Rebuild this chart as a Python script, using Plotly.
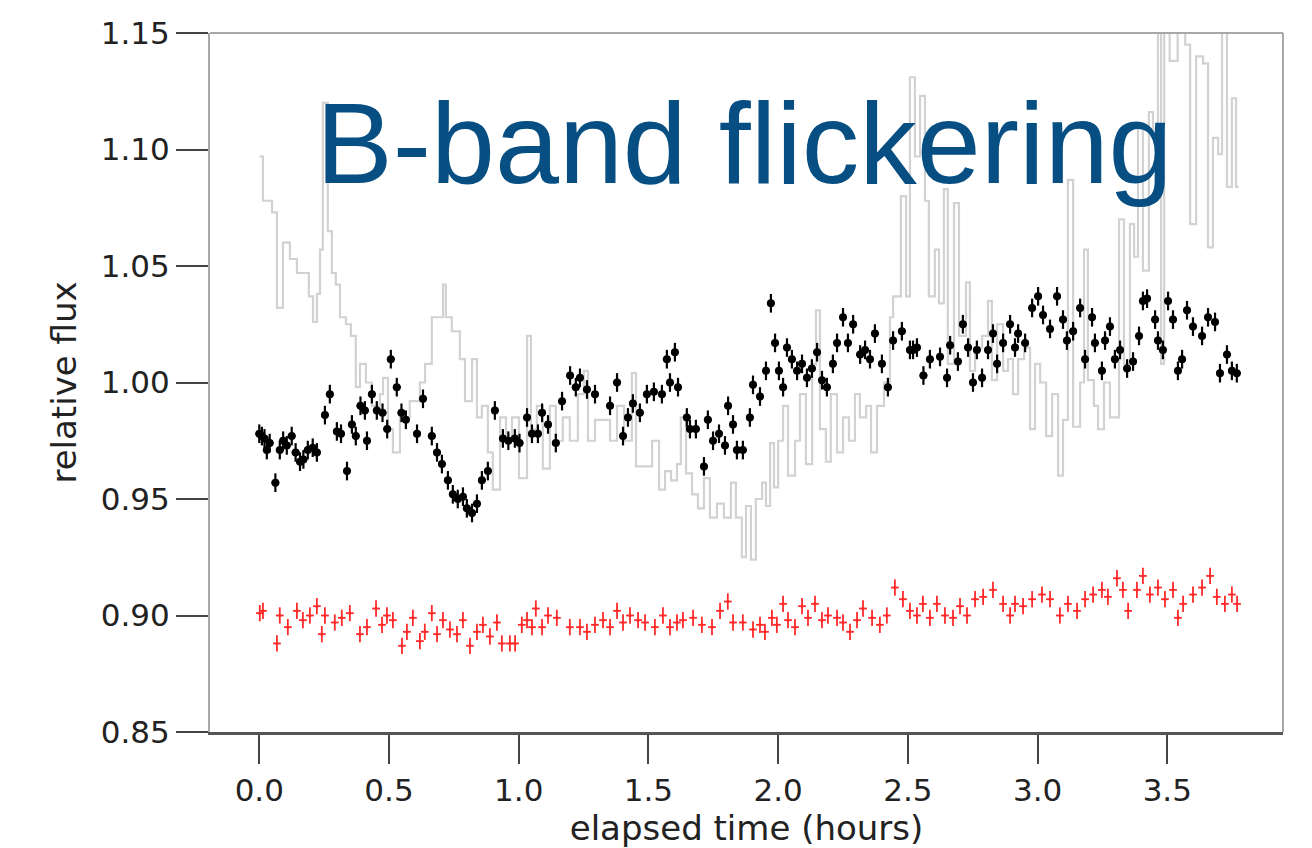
import plotly.graph_objects as go

# ---- comparison (gray) step light curve: time [h], relative flux ----
gray_t = [0.000, 0.014, 0.049, 0.068, 0.091, 0.118, 0.145, 0.191, 0.207, 0.222, 0.234, 0.245, 0.264,
          0.280, 0.295, 0.311, 0.334, 0.353, 0.372, 0.388, 0.411, 0.434, 0.465, 0.477, 0.496, 0.515,
          0.542, 0.580, 0.619, 0.639, 0.665, 0.708, 0.719, 0.742, 0.773, 0.793, 0.820, 0.839, 0.858,
          0.881, 0.900, 0.928, 0.951, 0.974, 1.001, 1.032, 1.047, 1.070, 1.093, 1.120, 1.143, 1.170,
          1.197, 1.228, 1.251, 1.267, 1.294, 1.352, 1.379, 1.406, 1.436, 1.452, 1.487, 1.514, 1.541,
          1.564, 1.587, 1.610, 1.625, 1.645, 1.668, 1.691, 1.714, 1.737, 1.764, 1.791, 1.818, 1.837,
          1.860, 1.876, 1.895, 1.914, 1.938, 1.953, 1.969, 1.984, 2.000, 2.019, 2.038, 2.065, 2.084,
          2.107, 2.131, 2.146, 2.161, 2.184, 2.203, 2.227, 2.250, 2.273, 2.296, 2.315, 2.339, 2.358,
          2.381, 2.408, 2.431, 2.443, 2.473, 2.493, 2.508, 2.527, 2.547, 2.566, 2.581, 2.604, 2.620,
          2.639, 2.654, 2.678, 2.697, 2.724, 2.739, 2.759, 2.786, 2.809, 2.824, 2.844, 2.867, 2.886,
          2.905, 2.925, 2.948, 2.971, 2.990, 3.010, 3.033, 3.056, 3.079, 3.098, 3.117, 3.137, 3.164,
          3.179, 3.194, 3.217, 3.233, 3.256, 3.279, 3.314, 3.333, 3.356, 3.372, 3.387, 3.406, 3.429,
          3.445, 3.464, 3.476, 3.488, 3.509, 3.540, 3.569, 3.588, 3.611, 3.638, 3.657, 3.676, 3.696,
          3.711, 3.730, 3.749, 3.765, 3.775]
gray_f = [1.097, 1.078, 1.073, 1.032, 1.060, 1.053, 1.047, 1.037, 1.026, 1.038, 1.057, 1.120, 1.065,
          1.047, 1.042, 1.028, 1.025, 1.020, 0.998, 1.008, 1.000, 0.990, 0.995, 1.002, 0.980, 0.970,
          0.985, 0.992, 1.000, 1.008, 1.028, 1.042, 1.028, 1.022, 1.010, 0.992, 1.010, 0.985, 0.990,
          0.970, 0.954, 0.985, 0.975, 0.985, 0.959, 1.020, 0.980, 0.990, 0.963, 0.990, 0.975, 0.985,
          0.975, 0.995, 1.005, 0.975, 0.984, 0.975, 0.990, 0.975, 1.004, 0.964, 0.964, 0.975, 0.954,
          0.962, 0.958, 0.965, 0.985, 0.961, 0.952, 0.946, 0.959, 0.942, 0.948, 0.942, 0.957, 0.942,
          0.925, 0.947, 0.924, 0.950, 0.957, 0.947, 0.974, 0.955, 0.975, 0.990, 0.960, 0.975, 0.995,
          0.965, 1.008, 1.031, 0.980, 0.966, 0.995, 0.970, 0.985, 0.975, 0.995, 0.985, 0.990, 0.970,
          0.990, 1.000, 1.028, 1.037, 1.080, 1.037, 1.131, 1.097, 1.123, 1.078, 1.037, 1.057, 1.034,
          1.083, 1.008, 1.077, 1.020, 1.043, 1.005, 1.015, 1.020, 1.035, 1.001, 1.025, 1.005, 1.010,
          0.995, 1.010, 1.015, 0.980, 1.008, 1.000, 0.977, 0.995, 0.960, 0.984, 1.087, 0.981, 1.000,
          1.057, 1.001, 0.990, 0.980, 1.000, 0.985, 1.070, 1.008, 1.068, 1.054, 1.111, 1.048, 1.116,
          1.105, 1.160, 1.008, 1.150, 1.138, 1.155, 1.145, 1.068, 1.140, 1.137, 1.058, 1.105, 1.098,
          1.155, 1.084, 1.122, 1.084, 1.084]

# ---- target star B-band (black) ----
blk_t = [0.000, 0.010, 0.020, 0.029, 0.040, 0.062, 0.079, 0.092, 0.106, 0.125, 0.140, 0.157, 0.170,
         0.187, 0.206, 0.222, 0.253, 0.272, 0.299, 0.315, 0.338, 0.357, 0.372, 0.390, 0.407, 0.415,
         0.434, 0.453, 0.475, 0.493, 0.507, 0.530, 0.548, 0.565, 0.608, 0.631, 0.665, 0.685, 0.704,
         0.727, 0.746, 0.765, 0.785, 0.800, 0.820, 0.839, 0.858, 0.881, 0.908, 0.939, 0.960, 0.985,
         1.003, 1.032, 1.051, 1.074, 1.090, 1.113, 1.143, 1.167, 1.198, 1.220, 1.236, 1.263, 1.294,
         1.352, 1.379, 1.402, 1.421, 1.440, 1.467, 1.494, 1.521, 1.552, 1.571, 1.583, 1.602, 1.614,
         1.648, 1.660, 1.683, 1.714, 1.729, 1.749, 1.772, 1.795, 1.807, 1.826, 1.841, 1.864, 1.891,
         1.903, 1.930, 1.953, 1.972, 1.988, 2.003, 2.019, 2.034, 2.053, 2.073, 2.092, 2.111, 2.130,
         2.150, 2.169, 2.188, 2.211, 2.227, 2.250, 2.269, 2.289, 2.316, 2.335, 2.354, 2.373, 2.400,
         2.423, 2.443, 2.477, 2.508, 2.520, 2.535, 2.560, 2.585, 2.624, 2.651, 2.663, 2.693, 2.712,
         2.732, 2.751, 2.766, 2.786, 2.809, 2.828, 2.844, 2.867, 2.894, 2.913, 2.925, 2.952, 2.979,
         3.002, 3.021, 3.048, 3.075, 3.098, 3.113, 3.137, 3.164, 3.183, 3.210, 3.221, 3.248, 3.260,
         3.279, 3.298, 3.318, 3.345, 3.368, 3.391, 3.406, 3.422, 3.453, 3.464, 3.483, 3.503, 3.522,
         3.541, 3.557, 3.576, 3.599, 3.634, 3.657, 3.684, 3.703, 3.730, 3.749, 3.768]
blk_f = [0.978, 0.977, 0.976, 0.971, 0.974, 0.957, 0.971, 0.975, 0.973, 0.977, 0.970, 0.966, 0.967,
         0.971, 0.972, 0.970, 0.986, 0.995, 0.979, 0.978, 0.962, 0.982, 0.977, 0.990, 0.988, 0.975,
         0.995, 0.988, 0.987, 0.980, 1.010, 0.998, 0.987, 0.984, 0.978, 0.993, 0.977, 0.970, 0.965,
         0.958, 0.952, 0.950, 0.951, 0.946, 0.944, 0.948, 0.958, 0.962, 0.988, 0.976, 0.975, 0.976,
         0.974, 0.985, 0.978, 0.978, 0.987, 0.982, 0.974, 0.992, 1.003, 0.998, 1.002, 0.997, 0.995,
         0.990, 1.000, 0.977, 0.985, 0.991, 0.987, 0.995, 0.996, 0.995, 1.010, 1.000, 1.013, 0.998,
         0.985, 0.980, 0.980, 0.964, 0.984, 0.975, 0.978, 0.973, 0.990, 0.982, 0.971, 0.971, 0.985,
         0.999, 0.994, 1.005, 1.034, 1.017, 1.005, 0.998, 1.015, 1.010, 1.005, 1.008, 1.002, 1.006,
         1.013, 1.001, 0.998, 1.008, 1.017, 1.028, 1.017, 1.025, 1.012, 1.014, 1.010, 1.021, 1.008,
         0.998, 1.018, 1.022, 1.014, 1.014, 1.015, 1.003, 1.010, 1.011, 1.002, 1.016, 1.009, 1.025,
         1.015, 1.000, 1.014, 1.002, 1.014, 1.021, 1.008, 1.017, 1.025, 1.015, 1.021, 1.017, 1.032,
         1.037, 1.029, 1.023, 1.037, 1.027, 1.018, 1.022, 1.032, 1.010, 1.028, 1.017, 1.005, 1.018,
         1.024, 1.010, 1.014, 1.006, 1.009, 1.020, 1.035, 1.036, 1.027, 1.018, 1.014, 1.035, 1.027,
         1.005, 1.010, 1.031, 1.024, 1.020, 1.028, 1.026, 1.004, 1.012, 1.005, 1.004]

# ---- check star (red), offset ----
red_t = [0.002, 0.014, 0.068, 0.079, 0.110, 0.145, 0.168, 0.195, 0.222, 0.241, 0.253, 0.291, 0.318,
         0.349, 0.388, 0.415, 0.450, 0.473, 0.492, 0.515, 0.550, 0.569, 0.592, 0.619, 0.638, 0.665,
         0.685, 0.708, 0.735, 0.762, 0.785, 0.812, 0.839, 0.862, 0.889, 0.916, 0.935, 0.966, 0.986,
         1.012, 1.032, 1.051, 1.066, 1.090, 1.113, 1.147, 1.197, 1.236, 1.263, 1.294, 1.325, 1.352,
         1.379, 1.402, 1.429, 1.460, 1.487, 1.525, 1.556, 1.583, 1.610, 1.633, 1.672, 1.706, 1.745,
         1.776, 1.806, 1.826, 1.864, 1.903, 1.930, 1.949, 1.976, 1.995, 2.019, 2.038, 2.065, 2.092,
         2.115, 2.142, 2.169, 2.192, 2.227, 2.250, 2.277, 2.304, 2.327, 2.362, 2.392, 2.419, 2.450,
         2.481, 2.508, 2.535, 2.558, 2.585, 2.612, 2.643, 2.674, 2.701, 2.728, 2.759, 2.790, 2.828,
         2.867, 2.894, 2.913, 2.944, 2.979, 3.017, 3.048, 3.086, 3.117, 3.152, 3.183, 3.214, 3.248,
         3.271, 3.306, 3.329, 3.349, 3.383, 3.406, 3.433, 3.464, 3.491, 3.522, 3.541, 3.561, 3.599,
         3.634, 3.665, 3.691, 3.722, 3.749, 3.769]
red_f = [0.901, 0.902, 0.888, 0.900, 0.895, 0.902, 0.898, 0.900, 0.904, 0.892, 0.900, 0.897, 0.899,
         0.901, 0.892, 0.895, 0.903, 0.896, 0.900, 0.898, 0.887, 0.893, 0.899, 0.889, 0.893, 0.901,
         0.892, 0.898, 0.894, 0.892, 0.898, 0.887, 0.893, 0.896, 0.891, 0.897, 0.888, 0.888, 0.888,
         0.896, 0.898, 0.895, 0.903, 0.895, 0.900, 0.899, 0.895, 0.895, 0.893, 0.896, 0.898, 0.895,
         0.902, 0.897, 0.900, 0.898, 0.897, 0.895, 0.900, 0.895, 0.897, 0.898, 0.899, 0.896, 0.895,
         0.902, 0.906, 0.897, 0.897, 0.894, 0.896, 0.893, 0.899, 0.896, 0.905, 0.898, 0.895, 0.904,
         0.899, 0.905, 0.898, 0.900, 0.899, 0.897, 0.893, 0.898, 0.903, 0.899, 0.896, 0.900, 0.912,
         0.907, 0.902, 0.900, 0.905, 0.899, 0.905, 0.900, 0.899, 0.904, 0.900, 0.907, 0.908, 0.911,
         0.905, 0.900, 0.905, 0.904, 0.907, 0.909, 0.907, 0.900, 0.905, 0.902, 0.907, 0.909, 0.911,
         0.908, 0.916, 0.911, 0.902, 0.911, 0.917, 0.909, 0.912, 0.907, 0.911, 0.899, 0.905, 0.909,
         0.912, 0.917, 0.908, 0.905, 0.909, 0.905]

x_ticks = [0.0, 0.5, 1.0, 1.5, 2.0, 2.5, 3.0, 3.5]
y_ticks = [0.85, 0.90, 0.95, 1.00, 1.05, 1.10, 1.15]

fig = go.Figure()
fig.add_trace(go.Scatter(x=gray_t, y=gray_f, mode="lines", line=dict(color="#d2d2d2", width=2.2, shape="hv"),
                         showlegend=False, hoverinfo="skip"))
fig.add_trace(go.Scatter(x=red_t, y=red_f, mode="markers",
                         marker=dict(color="#ff2a2a", size=3),
                         error_y=dict(type="constant", value=0.0035, color="#ff2a2a", thickness=1.8, width=0),
                         error_x=dict(type="constant", value=0.015, color="#ff2a2a", thickness=1.8, width=0),
                         showlegend=False))
fig.add_trace(go.Scatter(x=blk_t, y=blk_f, mode="markers",
                         marker=dict(color="black", size=8),
                         error_y=dict(type="constant", value=0.004, color="black", thickness=2.2, width=0),
                         error_x=dict(type="constant", value=0.015, color="black", thickness=2.2, width=0),
                         showlegend=False))

fig.add_annotation(text="B-band flickering", xref="paper", yref="paper", x=0.097, y=0.843,
                   xanchor="left", yanchor="middle", showarrow=False,
                   font=dict(family="Liberation Sans, Arial, Helvetica", size=115, color="#074f82"))

fig.add_shape(type="line", xref="paper", yref="paper", x0=0, x1=1, y0=1, y1=1,
              line=dict(color="#a8a8a8", width=2))
fig.add_shape(type="line", xref="paper", yref="paper", x0=1, x1=1, y0=0, y1=1,
              line=dict(color="#a8a8a8", width=2))

tickfont = dict(family="DejaVu Sans", size=31, color="#222")
fig.update_xaxes(range=[-0.19, 3.946], tickvals=x_ticks, ticktext=[f"{v:.1f}" for v in x_ticks],
                 ticks="outside", ticklen=29, tickwidth=1.5, tickcolor="#444",
                 showline=True, linecolor="#555", linewidth=3, showgrid=False, zeroline=False,
                 tickfont=tickfont, automargin=False,
                 title=dict(text="elapsed time (hours)", font=dict(family="DejaVu Sans", size=34, color="#222"),
                            standoff=0))
fig.update_yaxes(range=[0.85, 1.15], tickvals=y_ticks, ticktext=[f"{v:.2f}" for v in y_ticks],
                 ticks="outside", ticklen=32, tickwidth=1.5, tickcolor="#444",
                 showline=True, linecolor="#a8a8a8", linewidth=2, showgrid=False, zeroline=False,
                 tickfont=tickfont, automargin=False,
                 title=dict(text="relative flux", font=dict(family="DejaVu Sans", size=34, color="#222"),
                            standoff=14))
fig.update_layout(width=1304, height=840, margin=dict(l=202, r=29, t=25, b=116, autoexpand=False),
                  plot_bgcolor="white", paper_bgcolor="white")
fig.write_html("out.html")
